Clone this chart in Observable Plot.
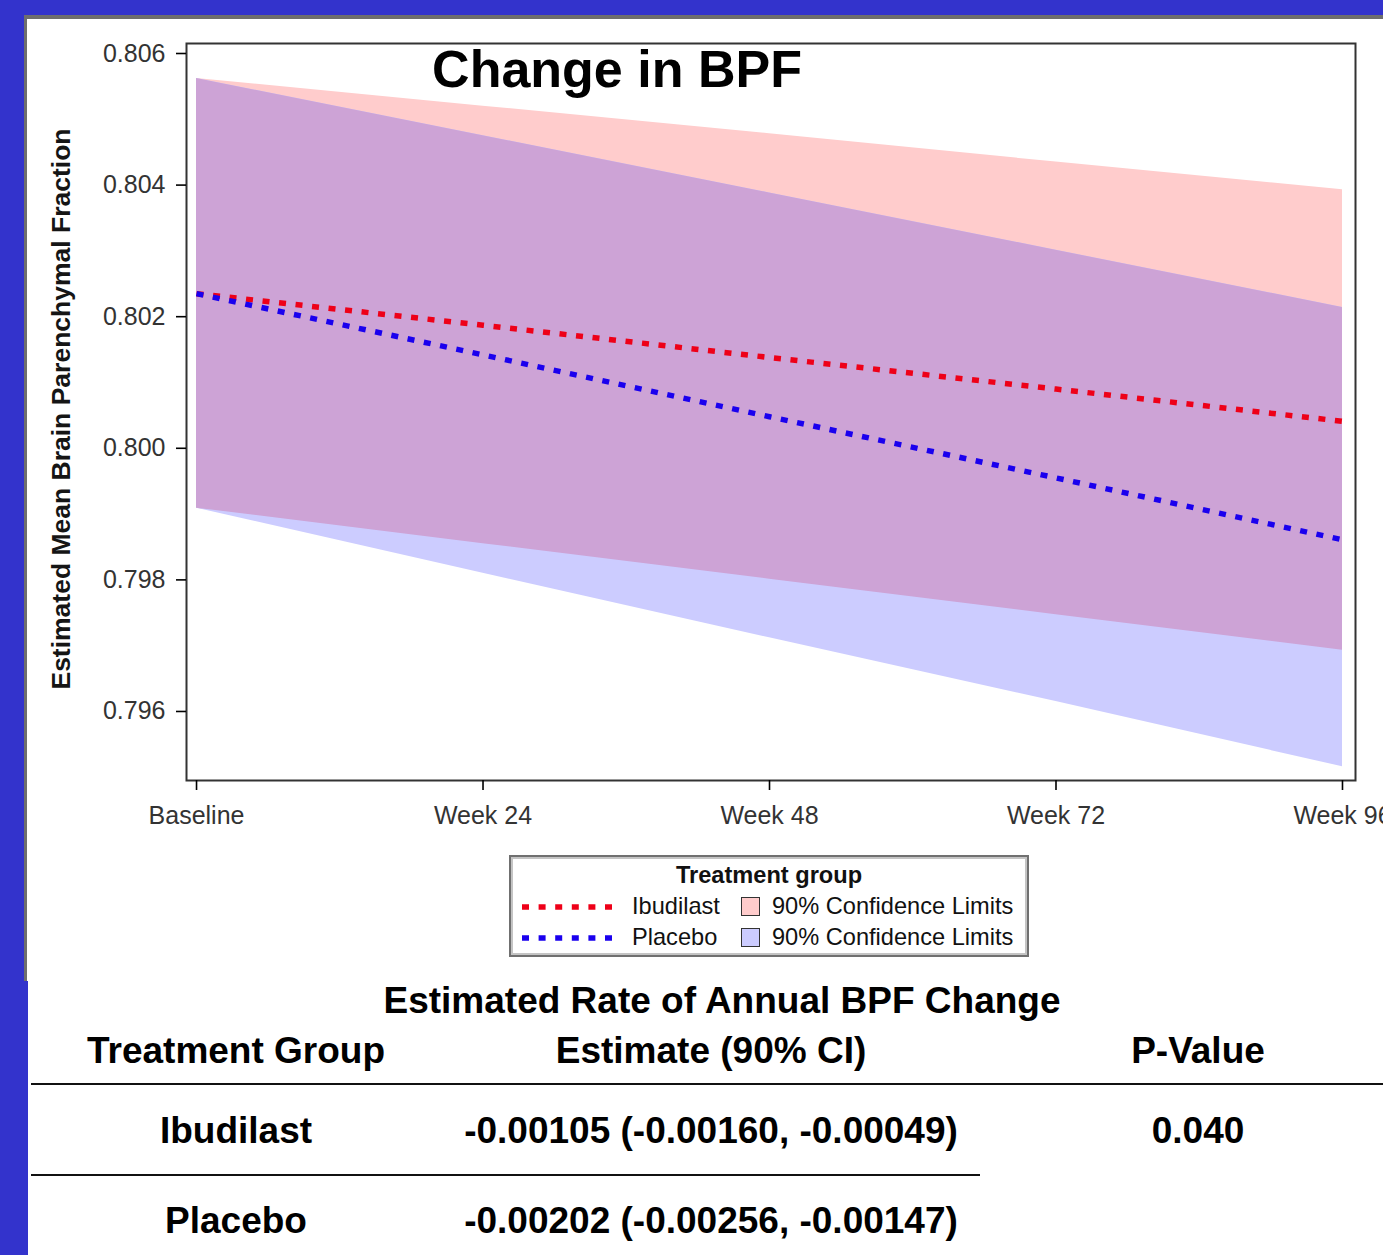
<!DOCTYPE html>
<html>
<head>
<meta charset="utf-8">
<script src="https://cdn.jsdelivr.net/npm/d3@7"></script>
<script src="https://cdn.jsdelivr.net/npm/@observablehq/plot@0.6"></script>
<style>
  html, body { margin: 0; padding: 0; }
  body { background: #3333cc; width: 1383px; height: 1255px; overflow: hidden; position: relative;
         font-family: "Liberation Sans", Arial, Helvetica, sans-serif; }
  #panel { position: absolute; left: 24px; top: 15px; width: 1359px; height: 966px; background: #fff;
           border-top: 4px solid #6e6e6e; border-left: 3px solid #6e6e6e; box-sizing: border-box; }
  #chart { position: absolute; left: 27px; top: 19px; }
  #title { position: absolute; left: 617px; top: 69px; transform: translate(-50%, -50%);
           font-size: 52px; font-weight: bold; line-height: 1; white-space: nowrap; color: #000; }
  #legend { position: absolute; left: 509px; top: 855px; width: 520px; height: 102px; box-sizing: border-box;
            background: #fff; border: 2px solid #707070; box-shadow: inset 0 0 0 2px #c4c4c4; }
  .lg { position: absolute; line-height: 1; white-space: nowrap; color: #111; font-size: 23.6px; }
  .sw { position: absolute; width: 19px; height: 19px; box-sizing: border-box; border: 1.5px solid #333; }
  #tablearea { position: absolute; left: 28px; top: 981px; width: 1355px; height: 274px; background: #fff; }
  .tc { position: absolute; transform: translate(-50%, -50%); font-size: 37px; font-weight: bold;
        line-height: 1; white-space: nowrap; color: #000; }
  .hl { position: absolute; height: 2px; background: #111; }
</style>
</head>
<body>
<div id="panel"></div>
<div id="chart"></div>
<div id="title">Change in BPF</div>
<div id="legend"></div>
<div id="tablearea"></div>
<script>
// ---- data ----
const weeks = [0, 24, 48, 72, 96];
const weekLabels = ["Baseline", "Week 24", "Week 48", "Week 72", "Week 96"];
const yTicks = [0.796, 0.798, 0.800, 0.802, 0.804, 0.806];

const groups = ["Ibudilast", "Placebo"];
const lineColors = ["#ee0018", "#1a00ee"];
const bandColors = ["#ffcccc", "#ccccff"];
const overlapColor = "#cda3d6";

const ibuMean  = [0.80235, 0.80187, 0.80138, 0.80090, 0.80041];
const ibuLower = [0.79909, 0.79855, 0.79801, 0.79747, 0.79693];
const ibuUpper = [0.80562, 0.80520, 0.80478, 0.80435, 0.80393];
const plaMean  = [0.80235, 0.80142, 0.80048, 0.79955, 0.79861];
const plaLower = [0.79909, 0.79810, 0.79712, 0.79615, 0.79516];
const plaUpper = [0.80562, 0.80475, 0.80388, 0.80301, 0.80214];

const tableCaption = "Estimated Rate of Annual BPF Change";
const tableHeaders = ["Treatment Group", "Estimate (90% CI)", "P-Value"];
const tableGroups = ["Ibudilast", "Placebo"];
const tableEstimates = ["-0.00105 (-0.00160, -0.00049)", "-0.00202 (-0.00256, -0.00147)"];
const tablePValues = ["0.040", ""];

// ---- build tables for Plot ----
const ibu = weeks.map((w, i) => ({week: w, mean: ibuMean[i], lo: ibuLower[i], hi: ibuUpper[i]}));
const pla = weeks.map((w, i) => ({week: w, mean: plaMean[i], lo: plaLower[i], hi: plaUpper[i]}));
const overlap = weeks.map((w, i) => ({week: w,
  lo: Math.max(ibuLower[i], plaLower[i]), hi: Math.min(ibuUpper[i], plaUpper[i])}));

const dash = "7,9.6";
const chart = Plot.plot({
  width: 1356,
  height: 835,
  marginLeft: 159,
  marginTop: 24,
  marginRight: 28,
  marginBottom: 74,
  style: {background: "transparent", fontFamily: "'Liberation Sans', Arial, sans-serif", overflow: "visible", maxWidth: "none"},
  x: {domain: [-0.84, 97.09]},
  y: {domain: [0.794951, 0.806152]},
  marks: [
    Plot.areaY(ibu, {x: "week", y1: "lo", y2: "hi", fill: bandColors[0]}),
    Plot.areaY(pla, {x: "week", y1: "lo", y2: "hi", fill: bandColors[1]}),
    Plot.areaY(overlap, {x: "week", y1: "lo", y2: "hi", fill: overlapColor}),
    Plot.lineY(ibu, {x: "week", y: "mean", stroke: lineColors[0], strokeWidth: 5.5, strokeDasharray: dash, strokeLinecap: "butt"}),
    Plot.lineY(pla, {x: "week", y: "mean", stroke: lineColors[1], strokeWidth: 5.5, strokeDasharray: dash, strokeLinecap: "butt"}),
    Plot.frame({stroke: "#333", strokeWidth: 2}),
    Plot.axisY(yTicks, {anchor: "left", tickSize: 10, tickPadding: 11, tickFormat: d3.format(".3f"),
      fontSize: 25, fill: "#333", stroke: "#000", strokeWidth: 1.6, label: null}),
    Plot.axisX(weeks, {anchor: "bottom", tickSize: 10, tickPadding: 16,
      tickFormat: d => weekLabels[weeks.indexOf(d)], fontSize: 25, fill: "#333", stroke: "#000", strokeWidth: 1.6, label: null}),
    Plot.text(["Estimated Mean Brain Parenchymal Fraction"], {frameAnchor: "left", rotate: -90, dx: -125, dy: -3,
      textAnchor: "middle", fontSize: 26.5, fontWeight: "bold", fill: "#151515"})
  ]
});
document.getElementById("chart").appendChild(chart);

// ---- legend ----
const legend = document.getElementById("legend");
function addEl(parent, cls, text, styles) {
  const el = document.createElement("div");
  el.className = cls;
  if (text != null) el.textContent = text;
  Object.assign(el.style, styles);
  parent.appendChild(el);
  return el;
}
addEl(legend, "lg", "Treatment group", {left: "50%", top: "19px", transform: "translate(-50%,-50%)", fontWeight: "bold", fontSize: "23.6px"});
groups.forEach((g, i) => {
  const cy = 52 + i * 31;
  const svgNS = "http://www.w3.org/2000/svg";
  const s = document.createElementNS(svgNS, "svg");
  s.setAttribute("width", 92); s.setAttribute("height", 12);
  Object.assign(s.style, {position: "absolute", left: "11px", top: (cy - 2 - 6) + "px"});
  const ln = document.createElementNS(svgNS, "line");
  ln.setAttribute("x1", 0); ln.setAttribute("x2", 92); ln.setAttribute("y1", 6); ln.setAttribute("y2", 6);
  ln.setAttribute("stroke", lineColors[i]); ln.setAttribute("stroke-width", 5.5);
  ln.setAttribute("stroke-dasharray", dash);
  s.appendChild(ln);
  legend.appendChild(s);
  addEl(legend, "lg", g, {left: "121px", top: (cy - 2) + "px", transform: "translateY(-50%)"});
  addEl(legend, "sw", null, {left: "230px", top: (cy - 2 - 10) + "px", background: bandColors[i]});
  addEl(legend, "lg", "90% Confidence Limits", {left: "261px", top: (cy - 2) + "px", transform: "translateY(-50%)"});
});

// ---- table ----
const body = document.body;
const colX = [236, 711, 1198];
addEl(body, "tc", tableCaption, {left: "722px", top: "1000px"});
tableHeaders.forEach((h, i) => addEl(body, "tc", h, {left: colX[i] + "px", top: "1050px"}));
addEl(body, "hl", null, {left: "31px", top: "1083px", width: "1352px"});
tableGroups.forEach((g, r) => {
  const cy = 1130 + r * 90;
  addEl(body, "tc", g, {left: colX[0] + "px", top: cy + "px"});
  addEl(body, "tc", tableEstimates[r], {left: colX[1] + "px", top: cy + "px"});
  if (tablePValues[r]) addEl(body, "tc", tablePValues[r], {left: colX[2] + "px", top: cy + "px"});
});
addEl(body, "hl", null, {left: "31px", top: "1174px", width: "949px"});
</script>
</body>
</html>
